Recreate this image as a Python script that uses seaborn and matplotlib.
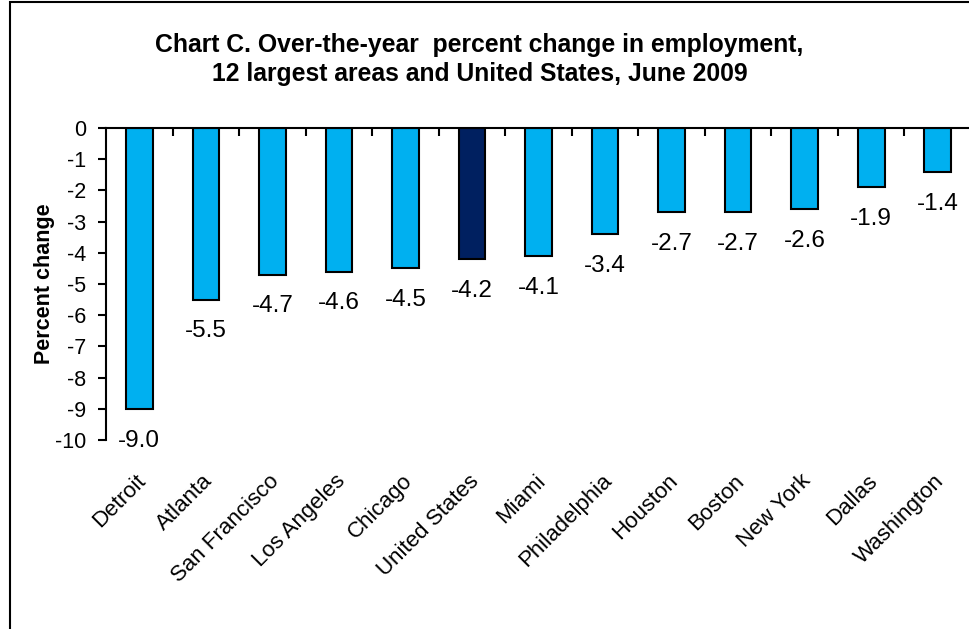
import matplotlib
matplotlib.use("Agg")
import matplotlib.pyplot as plt
import matplotlib.transforms as mtransforms
import seaborn as sns
import pandas as pd
from matplotlib.patches import Rectangle

areas = ["Detroit", "Atlanta", "San Francisco", "Los Angeles", "Chicago", "United States",
         "Miami", "Philadelphia", "Houston", "Boston", "New York", "Dallas", "Washington"]
values = [-9.0, -5.5, -4.7, -4.6, -4.5, -4.2, -4.1, -3.4, -2.7, -2.7, -2.6, -1.9, -1.4]
yticks = [0, -1, -2, -3, -4, -5, -6, -7, -8, -9, -10]

light = "#00B0F0"
dark = "#002060"
palette = {a: (dark if a == "United States" else light) for a in areas}

sns.set_theme(style="white")
plt.rcParams["font.family"] = ["Liberation Sans", "DejaVu Sans"]
plt.rcParams.update({"text.color": "black", "axes.labelcolor": "black",
                     "xtick.color": "black", "ytick.color": "black"})

df = pd.DataFrame({"area": areas, "value": values})

fig = plt.figure(figsize=(9.69, 6.29), dpi=100)
ax = fig.add_axes([106/969, 1-440/629, (971-106)/969, (440-128)/629])

sns.barplot(data=df, x="area", y="value", hue="area", palette=palette, legend=False,
            width=0.4, edgecolor="black", linewidth=1.5, saturation=1, ax=ax)

ax.set_ylim(-10, 0)
ax.set_xlim(-0.5, len(areas) - 0.5)
ax.set_yticks(yticks)
ax.set_yticklabels([str(v) for v in yticks], fontsize=15.5, color="black")
ax.set_ylabel("Percent change", fontsize=15.5, fontweight="bold", labelpad=0, color="black")
ax.set_xlabel("")

for s in ["right", "bottom"]:
    ax.spines[s].set_visible(False)
for s in ["left", "top"]:
    ax.spines[s].set_color("black")
    ax.spines[s].set_linewidth(1.5)

ax.tick_params(axis="y", which="major", left=True, direction="out", length=6, width=1.5,
               color="black", pad=8, labelcolor="black")
ax.set_xticks(range(len(areas)))
ax.set_xticklabels(areas, rotation=45, ha="right", va="top", rotation_mode="anchor",
                   fontsize=16, color="black")
ax.tick_params(axis="x", which="major", bottom=False, top=False, pad=16)
shift = mtransforms.ScaledTranslation(-4/100, 0, fig.dpi_scale_trans)
for lbl in ax.get_xticklabels():
    lbl.set_transform(lbl.get_transform() + shift)
ax.set_xticks([i + 0.5 for i in range(len(areas) - 1)], minor=True)
ax.tick_params(axis="x", which="minor", top=True, bottom=False, direction="in",
               length=6, width=1.5, color="black")

for i, v in enumerate(values):
    ax.annotate(f"{v:.1f}", xy=(i, v), xytext=(0, -15), textcoords="offset points",
                ha="center", va="top", fontsize=17.5, color="black")

fig.text(0.495, 1 - 45/629, "Chart C. Over-the-year  percent change in employment,",
         ha="center", va="center", fontsize=17.8, fontweight="bold", color="black")
fig.text(0.495, 1 - 74/629, "12 largest areas and United States, June 2009",
         ha="center", va="center", fontsize=17.8, fontweight="bold", color="black")

fig.patches.append(Rectangle((10/969, -0.05), 1.1, 1 - 2/629 + 0.05, transform=fig.transFigure,
                             fill=False, edgecolor="black", linewidth=1.5))

fig.savefig("out.png", dpi=100)
